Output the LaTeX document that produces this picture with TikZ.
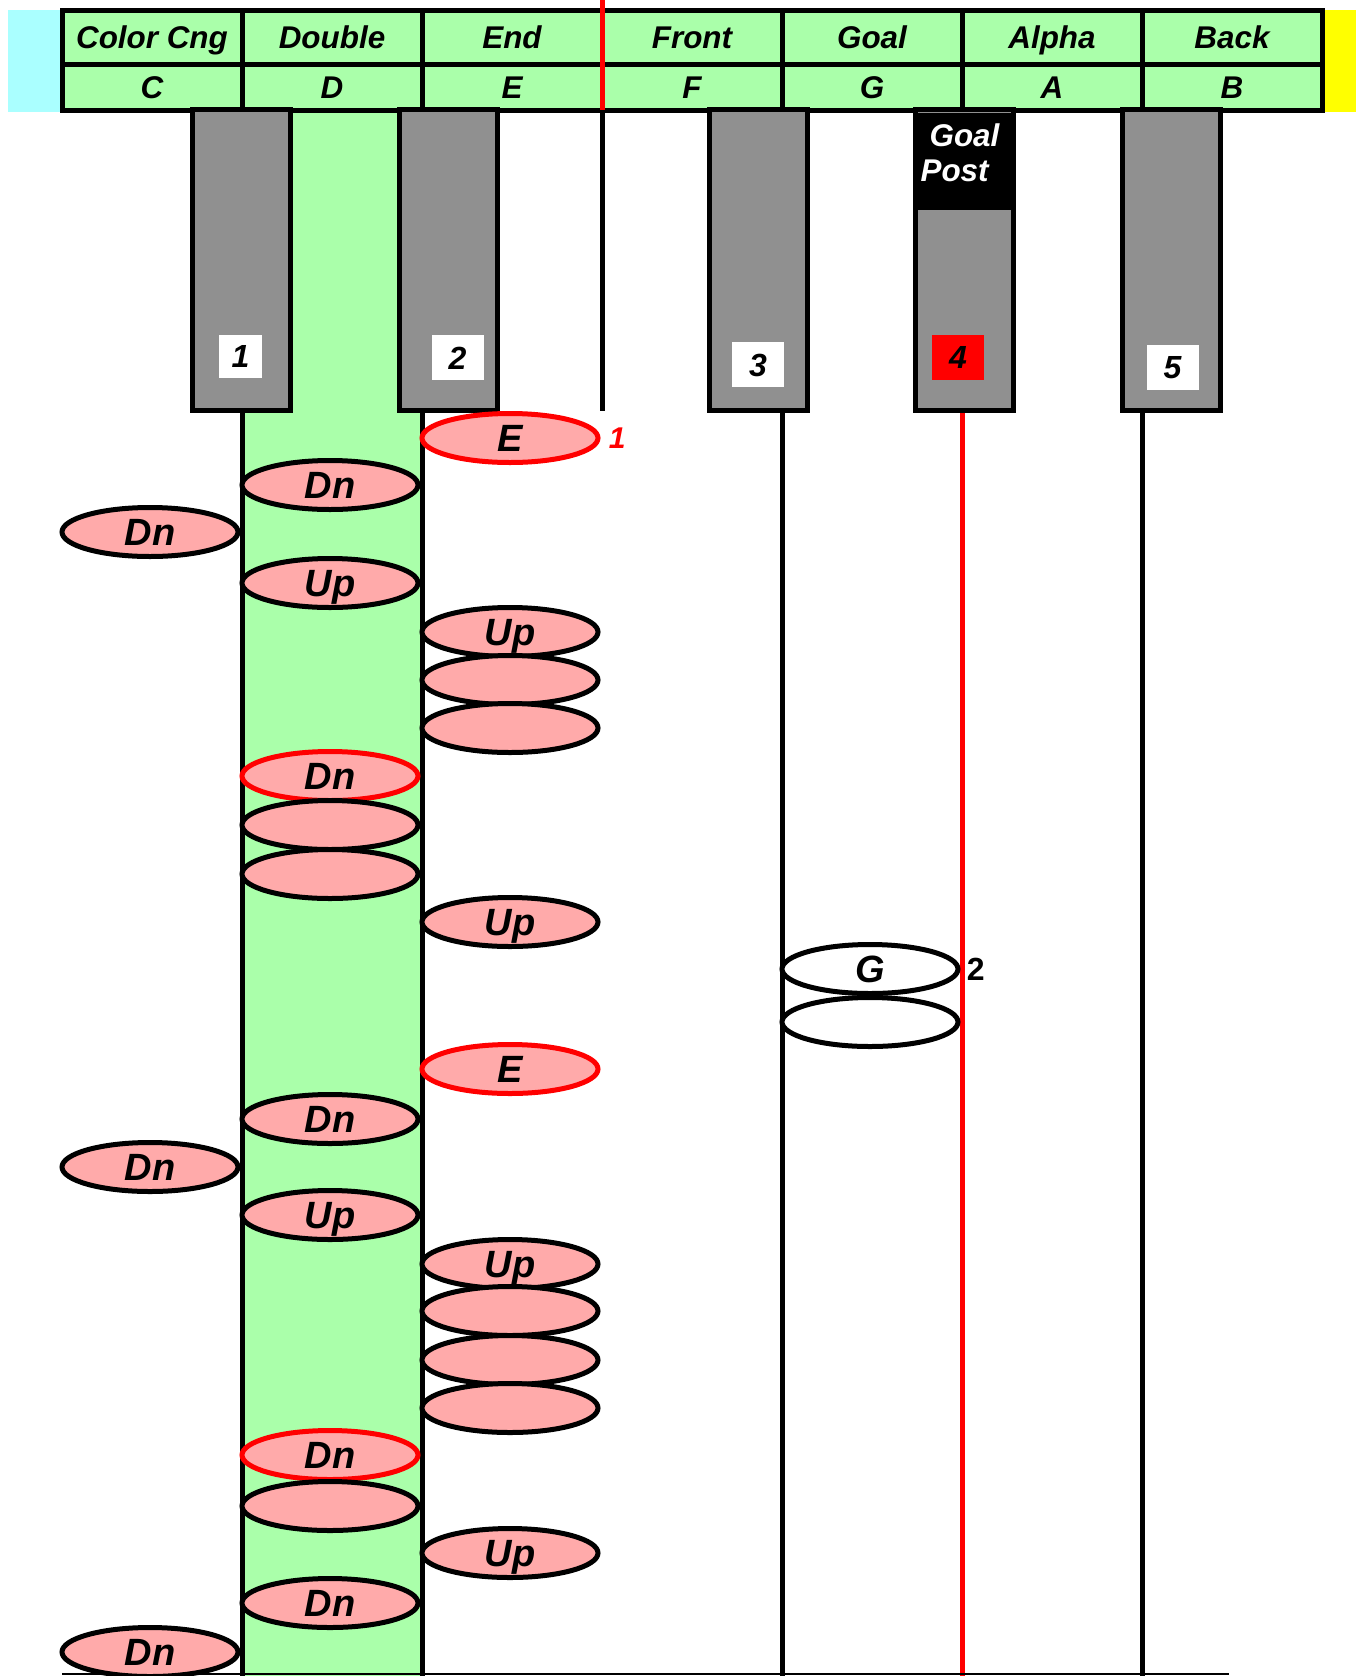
\documentclass[tikz,border=0pt]{standalone}
\usepackage{fontspec}
\setmainfont{Liberation Sans}
\usetikzlibrary{shapes.geometric,positioning}

\definecolor{stripgreen}{HTML}{AAFFAA}
\definecolor{notepink}{HTML}{FFAAAA}
\definecolor{keygray}{HTML}{909090}
\definecolor{leftcyan}{HTML}{AAFFFF}
\definecolor{rightyellow}{HTML}{FFFF00}

\begin{document}
\begin{tikzpicture}[x=0.5pt,y=-0.5pt,
    namecell/.style={draw,line width=2.5pt,fill=stripgreen,inner sep=0pt,minimum width=90pt,minimum height=27pt,
      font=\bfseries\itshape\fontsize{15.7}{18}\selectfont,text height=11.2pt,text depth=0pt},
    lettercell/.style={namecell,minimum height=23pt},
    blackkey/.style={draw,line width=2.5pt,fill=keygray,inner sep=0pt,minimum width=49pt,minimum height=150.5pt},
    numbox/.style={fill=white,inner sep=0pt,minimum width=26pt,minimum height=22.5pt,
      font=\bfseries\itshape\fontsize{16}{18}\selectfont,text height=11.5pt,text depth=0pt},
    note/.style={ellipse,draw,line width=2.5pt,fill=notepink,inner sep=0pt,minimum width=88pt,minimum height=24.5pt,
      font=\bfseries\itshape\fontsize{19}{21}\selectfont,text height=13.6pt,text depth=0pt},
    target/.style={note,draw=red},
    ghost/.style={note,fill=white},
    bar/.style={line width=2.5pt},
    tag/.style={inner sep=0pt,font=\bfseries\itshape\fontsize{15}{18}\selectfont}]
\useasboundingbox (0,0) rectangle (1356,1676);

% side blocks and the green strip
\fill[leftcyan] (8,10) rectangle (62,112);
\fill[rightyellow] (1322,10) rectangle (1356,112);
\fill[stripgreen] (242,110) rectangle (422,1676);

% header table
\node[namecell] (nC) at (152,37) {Color Cng};
\node[namecell] (nD) at (332,37) {Double};
\node[namecell] (nE) at (512,37) {End};
\node[namecell] (nF) at (692,37) {Front};
\node[namecell] (nG) at (872,37) {Goal};
\node[namecell] (nA) at (1052,37) {Alpha};
\node[namecell] (nB) at (1232,37) {Back};

\node[lettercell] (lC) at (152,87) {C};
\node[lettercell] (lD) at (332,87) {D};
\node[lettercell] (lE) at (512,87) {E};
\node[lettercell] (lF) at (692,87) {F};
\node[lettercell] (lG) at (872,87) {G};
\node[lettercell] (lA) at (1052,87) {A};
\node[lettercell] (lB) at (1232,87) {B};

% lines down the page
\coordinate (cdTop) at (242,110);  \coordinate (cdBot) at (242,1676);
\coordinate (deTop) at (422,110);  \coordinate (deBot) at (422,1676);
\coordinate (efTop) at (602,0);    \coordinate (efMid) at (602,110);   \coordinate (efBot) at (602,411);
\coordinate (fgTop) at (782,110);  \coordinate (fgBot) at (782,1676);
\coordinate (gaTop) at (962,411);  \coordinate (gaBot) at (962,1676);
\coordinate (abTop) at (1142,110); \coordinate (abBot) at (1142,1676);
\coordinate (floorL) at (62,1674); \coordinate (floorR) at (1229,1674);

\draw[bar] (cdTop) -- (cdBot) (deTop) -- (deBot) (efMid) -- (efBot)
  (fgTop) -- (fgBot) (abTop) -- (abBot);
\draw[bar,red] (efTop) -- (efMid) (gaTop) -- (gaBot);
\draw[line width=0.75pt] (floorL) -- (floorR);

% keys
\node[blackkey] (k1) at (241.5,260) {};
\node[blackkey] (k2) at (448.5,260) {};
\node[blackkey] (k3) at (758.5,260) {};
\node[blackkey] (k4) at (964,260) {};
\node[blackkey] (k5) at (1171,260) {};

\fill[black] (917,112.5) rectangle (1011,210);
\node[tag,text=white,align=left,font=\bfseries\itshape\fontsize{15.7}{17.5}\selectfont] (post) at (960,153) {\hspace*{4.5pt}Goal\\Post};

\node[numbox,minimum width=21.5pt,minimum height=21.5pt] (n1) at (240.5,356) {1\hspace{1pt}};
\node[numbox] (n2) at (457.5,357.5) {2\hspace{4pt}};
\node[numbox] (n3) at (758,364.5) {3\hspace{3pt}};
\node[numbox,fill=red] (n4) at (958,357) {4\hspace{3pt}};
\node[numbox] (n5) at (1172.5,367) {5\hspace{5pt}};

% notes
\node[target] (e1) at (510,438) {E};
\node[tag,red,right=4pt of e1] (t1) {1};
\node[note] (d1) at (330,485) {Dn};
\node[note] (c1) at (150,532) {Dn};
\node[note] (d2) at (330,583) {Up};
\node[note] (e2) at (510,632) {Up};
\node[note] (e3) at (510,680) {};
\node[note] (e4) at (510,728) {};
\node[target] (d3) at (330,776) {Dn};
\node[note] (d4) at (330,825) {};
\node[note] (d5) at (330,874) {};
\node[note] (e5) at (510,922) {Up};
\node[ghost] (g1) at (870,969) {G};
\node[tag,font=\bfseries\fontsize{16}{18}\selectfont,right=3pt of g1] (t2) {2};
\node[ghost] (g2) at (870,1022) {};
\node[target] (e6) at (510,1069) {E};
\node[note] (d6) at (330,1119) {Dn};
\node[note] (c2) at (150,1167) {Dn};
\node[note] (d7) at (330,1215) {Up};
\node[note] (e7) at (510,1264) {Up};
\node[note] (e8) at (510,1311) {};
\node[note] (e9) at (510,1360) {};
\node[note] (e10) at (510,1408) {};
\node[target] (d8) at (330,1455) {Dn};
\node[note] (d9) at (330,1506) {};
\node[note] (e11) at (510,1553) {Up};
\node[note] (d10) at (330,1603) {Dn};
\node[note] (c3) at (150,1652) {Dn};
\end{tikzpicture}
\end{document}
